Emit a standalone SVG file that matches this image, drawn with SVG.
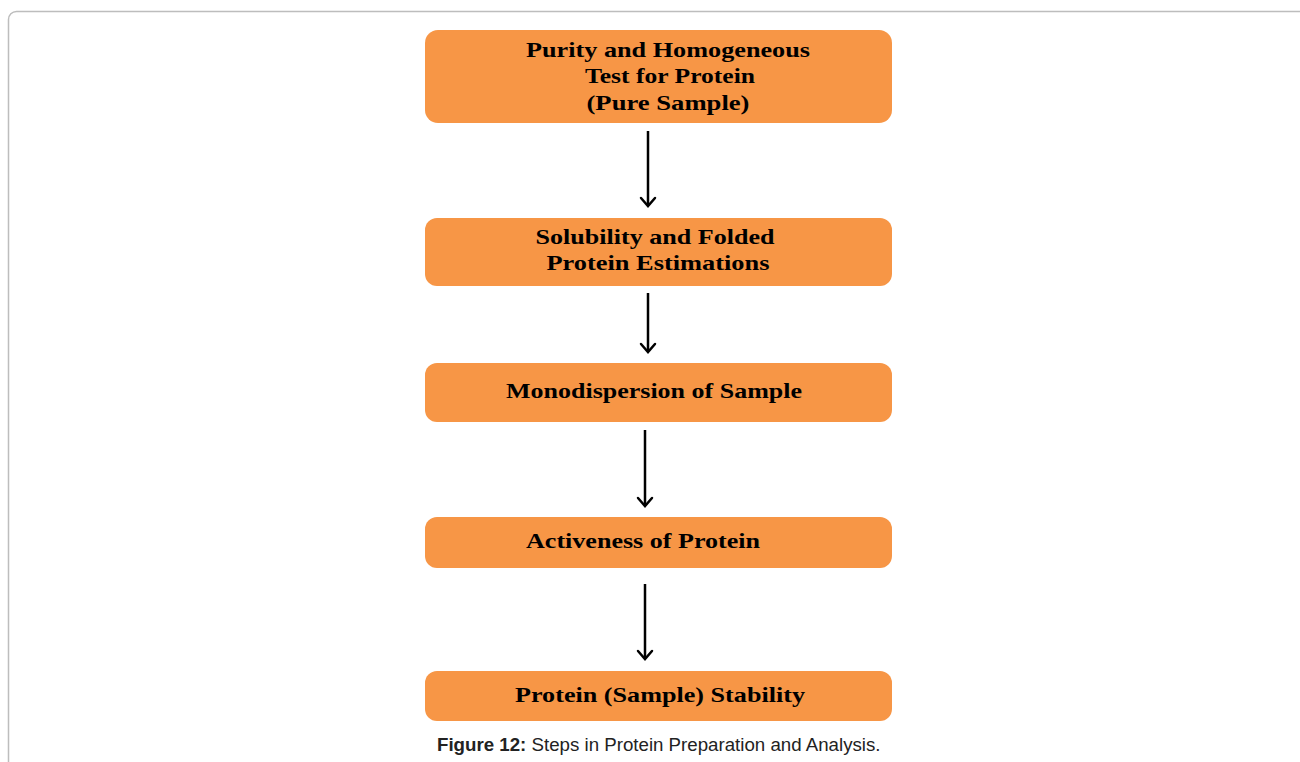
<svg xmlns="http://www.w3.org/2000/svg" width="1300" height="762" viewBox="0 0 1300 762">
<defs>
<style>
.box{fill:#f79646;}
.t{font-family:"Liberation Serif","Times New Roman",serif;font-weight:bold;font-size:22px;fill:#000;text-anchor:middle;}
.cap{font-family:"Liberation Sans",Arial,sans-serif;font-size:18.7px;fill:#222;}
.arr{stroke:#000;stroke-width:2.5;fill:none;}
.head{stroke:#000;stroke-width:2.5;fill:none;stroke-linecap:round;}
</style>
</defs>
<rect width="1300" height="762" fill="#fff"/>
<rect x="8.5" y="11.5" width="1320" height="800" rx="8" fill="#fff" stroke="#bdbdbd" stroke-width="1.5"/>
<g id="n1"><rect class="box" x="425" y="30" width="467" height="93" rx="13"/>
<text class="t" x="668" y="57" textLength="284" lengthAdjust="spacingAndGlyphs">Purity and Homogeneous</text>
<text class="t" x="670" y="83" textLength="170" lengthAdjust="spacingAndGlyphs">Test for Protein</text>
<text class="t" x="668" y="110" textLength="163" lengthAdjust="spacingAndGlyphs">(Pure Sample)</text></g>
<g id="n2"><rect class="box" x="425" y="218" width="467" height="68" rx="12"/>
<text class="t" x="655" y="244" textLength="239" lengthAdjust="spacingAndGlyphs">Solubility and Folded</text>
<text class="t" x="658" y="270" textLength="223" lengthAdjust="spacingAndGlyphs">Protein Estimations</text></g>
<g id="n3"><rect class="box" x="425" y="363" width="467" height="59" rx="12"/>
<text class="t" x="654" y="398" textLength="296" lengthAdjust="spacingAndGlyphs">Monodispersion of Sample</text></g>
<g id="n4"><rect class="box" x="425" y="517" width="467" height="51" rx="12"/>
<text class="t" x="643" y="548" textLength="234" lengthAdjust="spacingAndGlyphs">Activeness of Protein</text></g>
<g id="n5"><rect class="box" x="425" y="671" width="467" height="50" rx="12"/>
<text class="t" x="660" y="702" textLength="290" lengthAdjust="spacingAndGlyphs">Protein (Sample) Stability</text></g>
<g id="connectors">
<line class="arr" x1="648" y1="131" x2="648" y2="205"/><path class="head" d="M641,198 L648,206 L655,198"/>
<line class="arr" x1="648" y1="293" x2="648" y2="351"/><path class="head" d="M641,344 L648,352 L655,344"/>
<line class="arr" x1="645" y1="430" x2="645" y2="505"/><path class="head" d="M638,498 L645,506 L652,498"/>
<line class="arr" x1="645" y1="584" x2="645" y2="658"/><path class="head" d="M638,651 L645,659 L652,651"/>
</g>
<text class="cap" x="437" y="751"><tspan font-weight="bold">Figure 12:</tspan> Steps in Protein Preparation and Analysis.</text>
</svg>
